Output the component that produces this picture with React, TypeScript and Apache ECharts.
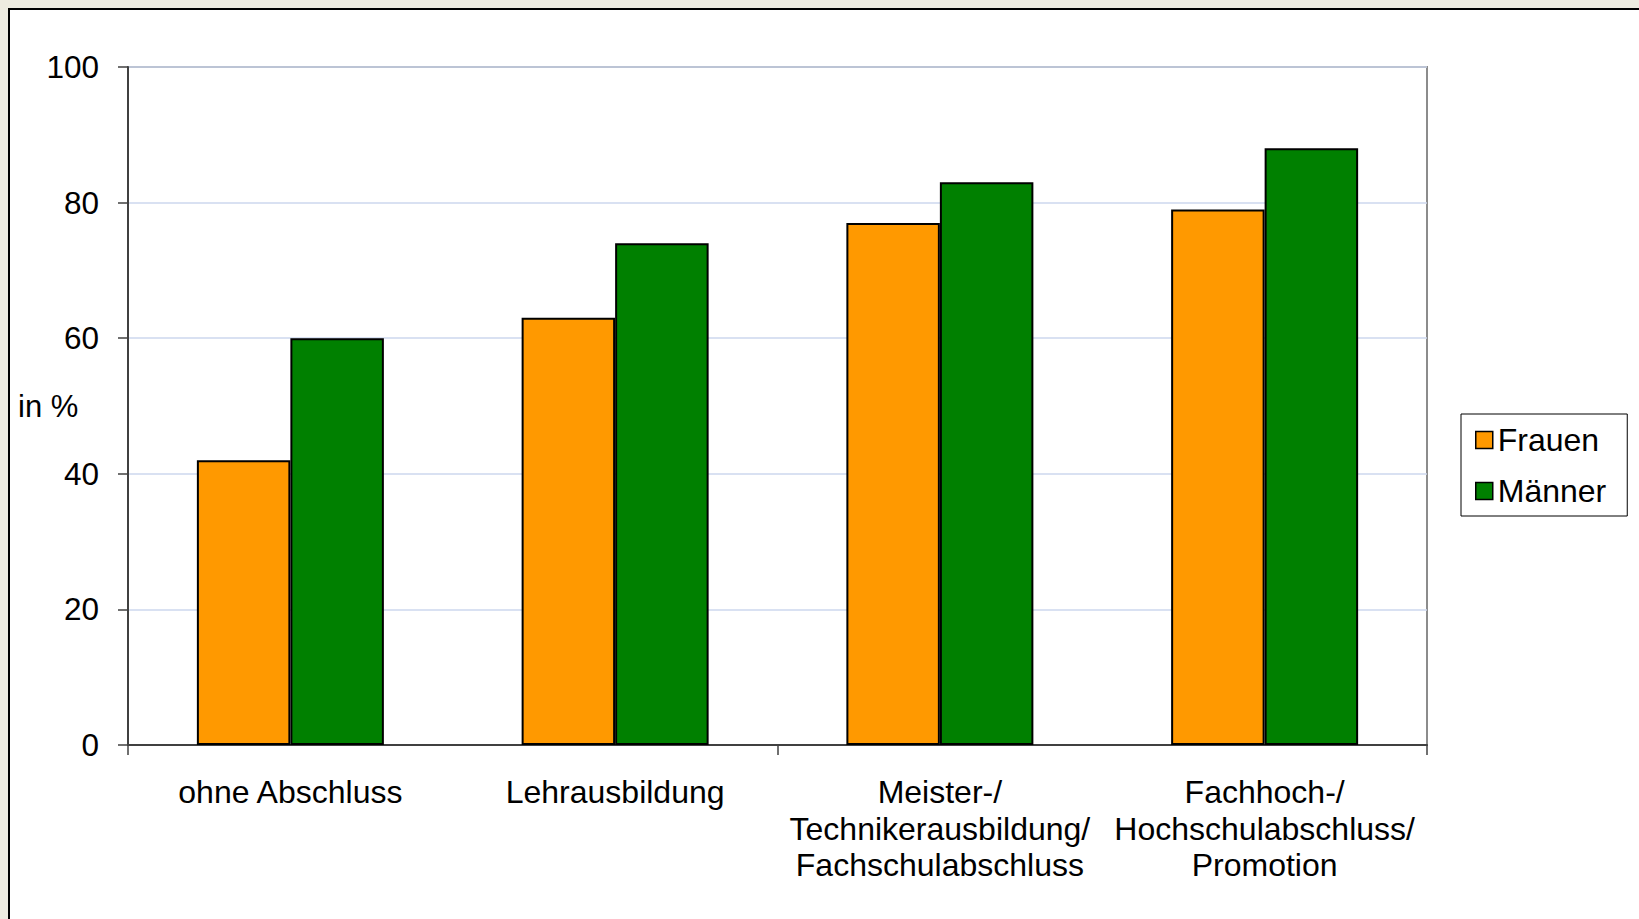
import React, { useEffect, useRef } from "react";
import * as echarts from "echarts";

const categories = [
  "ohne Abschluss",
  "Lehrausbildung",
  "Meister-/\nTechnikerausbildung/\nFachschulabschluss",
  "Fachhoch-/\nHochschulabschluss/\nPromotion",
];
const frauen = [42, 63, 77, 79];
const maenner = [60, 74, 83, 88];
const seriesNames = ["Frauen", "Männer"];
const yTicks = { min: 0, max: 100, interval: 20 };

const FONT = '"Liberation Sans", Arial, sans-serif';

export default function App() {
  const ref = useRef<HTMLDivElement>(null);
  useEffect(() => {
    document.body.style.margin = "0";
    const chart = echarts.init(ref.current!, undefined, { renderer: "svg" });
    chart.setOption({
      animation: false,
      backgroundColor: "#EDEBE0",
      textStyle: { fontFamily: FONT },
      graphic: [
        {
          type: "rect",
          z: -10,
          silent: true,
          shape: { x: 9, y: 9, width: 2000, height: 2000 },
          style: { fill: "#FFFFFF", stroke: "#000000", lineWidth: 2 },
        },
        {
          type: "text",
          left: 18,
          top: 391,
          style: { text: "in %", font: `31px ${FONT}`, fill: "#000" },
        },
      ],
      grid: {
        left: 128,
        top: 67,
        right: 212,
        bottom: 174,
        show: true,
        borderColor: "#8C8C8C",
        borderWidth: 2,
        backgroundColor: "transparent",
      },
      legend: {
        orient: "vertical",
        left: 1461,
        top: 414,
        data: seriesNames,
        icon: "rect",
        itemWidth: 17,
        itemHeight: 17,
        itemGap: 17,
        padding: [9, 21, 8, 14],
        borderColor: "#000",
        borderWidth: 1,
        backgroundColor: "#fff",
        textStyle: { fontSize: 32, lineHeight: 34, color: "#000", fontFamily: FONT },
        itemStyle: { borderColor: "#000", borderWidth: 1.5 },
      },
      xAxis: {
        type: "category",
        data: categories,
        axisLine: { show: true, lineStyle: { color: "#404040", width: 2 } },
        axisTick: {
          show: true,
          interval: (i: number) => i === 0 || i === 2,
          length: 10,
          lineStyle: { color: "#404040", width: 1.5 },
        },
        axisLabel: {
          fontSize: 32,
          lineHeight: 36.5,
          color: "#000",
          margin: 29,
          interval: 0,
          fontFamily: FONT,
        },
      },
      yAxis: {
        type: "value",
        min: yTicks.min,
        max: yTicks.max,
        interval: yTicks.interval,
        axisLine: { show: true, lineStyle: { color: "#404040", width: 2 } },
        axisTick: { show: true, length: 10, lineStyle: { color: "#404040", width: 1.5 } },
        axisLabel: { fontSize: 31.5, color: "#000", margin: 29, fontFamily: FONT },
        splitLine: { show: true, lineStyle: { color: "#CDD7EE", width: 1.5 } },
      },
      series: [
        {
          name: seriesNames[0],
          type: "bar",
          data: frauen,
          barWidth: 93.5,
          barGap: "0%",
          itemStyle: { color: "#FF9900", borderColor: "#000", borderWidth: 2 },
        },
        {
          name: seriesNames[1],
          type: "bar",
          data: maenner,
          barWidth: 93.5,
          barGap: "0%",
          itemStyle: { color: "#008000", borderColor: "#000", borderWidth: 2 },
        },
      ],
    });
    return () => chart.dispose();
  }, []);
  return <div ref={ref} style={{ width: 1639, height: 919 }} />;
}
